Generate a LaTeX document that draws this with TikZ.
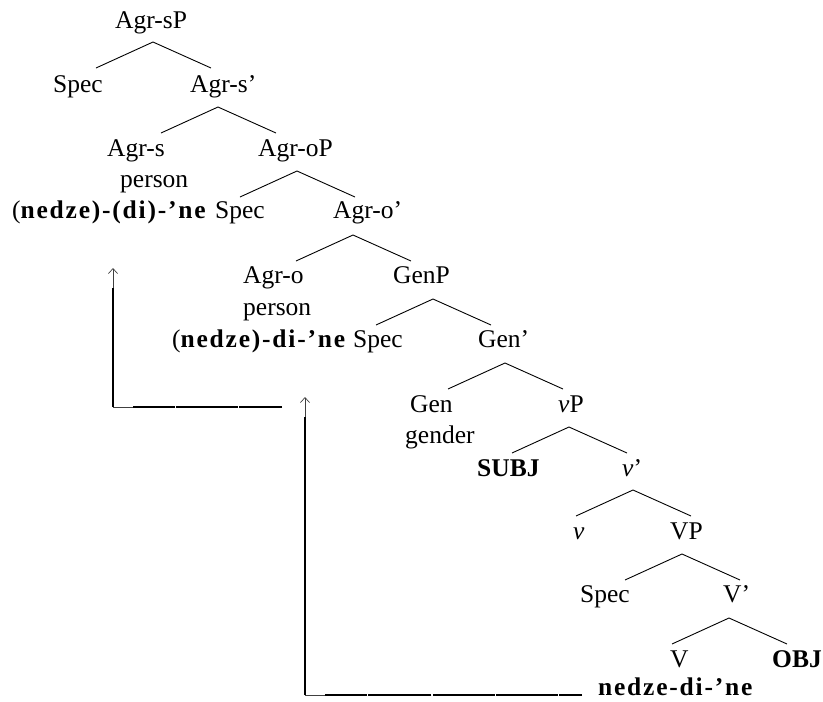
\documentclass[tikz,border=0pt]{standalone}
\usepackage{fontspec}
\setmainfont{Liberation Serif}
\newfontfamily\bspfam{Liberation Serif}[LetterSpace=7]
\usetikzlibrary{arrows.meta}
\newcommand\tfs{\fontsize{25.5}{30}\selectfont}
\newcommand\bt[1]{{\bspfam\bfseries #1}}
\newcommand\bn[1]{{\bfseries #1}}
\begin{document}
\begin{tikzpicture}[x=1pt,y=-1pt,
  tx/.style={anchor=base west,inner sep=0pt,font=\tfs},
  br/.style={line width=0.9pt},
  thinln/.style={line width=0.7pt,black!75},
  thickln/.style={line width=2.2pt}]
\useasboundingbox (0,0) rectangle (823,702);
% labels
\node[tx] (AgrsP) at (115,28) {Agr-sP};
\node[tx] (Spec1) at (53,92) {Spec};
\node[tx] (Agrsb) at (190,92) {Agr-s’};
\node[tx] (Agrs) at (107,156) {Agr-s};
\node[tx] (pers1) at (120,187) {person};
\node[tx] (ned1) at (12,218) {(\bt{nedze)-(di)-’ne}};
\node[tx] (Spec2) at (215,218) {Spec};
\node[tx] (AgroP) at (258,156) {Agr-oP};
\node[tx] (Agrob) at (333,218) {Agr-o’};
\node[tx] (Agro) at (243,283) {Agr-o};
\node[tx] (GenP) at (393,283) {GenP};
\node[tx] (pers2) at (243,315) {person};
\node[tx] (ned2) at (172,347) {(\bt{nedze)-di-’ne}};
\node[tx] (Spec3) at (353,347) {Spec};
\node[tx] (Genb) at (478,347) {Gen’};
\node[tx] (Gen) at (410,412) {Gen};
\node[tx] (gender) at (405,443) {gender};
\node[tx] (vP) at (558,412) {\textit{v}P};
\node[tx] (SUBJ) at (477,476) {\bn{SUBJ}};
\node[tx] (vb) at (622,476) {\textit{v}’};
\node[tx] (v) at (573,539) {\textit{v}};
\node[tx] (VP) at (670,539) {VP};
\node[tx] (Spec4) at (580,602) {Spec};
\node[tx] (Vb) at (723,602) {V’};
\node[tx] (V) at (670,667) {V};
\node[tx] (OBJ) at (772,667) {\bn{OBJ}};
\node[tx] (ned3) at (598,695) {\bt{nedze-di-’ne}};
% branch apexes
\coordinate (k1) at (153,42);
\coordinate (k2) at (218,107);
\coordinate (k3) at (297,171);
\coordinate (k4) at (353,235);
\coordinate (k5) at (433,299);
\coordinate (k6) at (505,363);
\coordinate (k7) at (569,427);
\coordinate (k8) at (633,490);
\coordinate (k9) at (682,554);
\coordinate (k10) at (729,618);
\foreach \k in {k1,k2,k3,k4,k5,k6,k7,k8,k9,k10}{
  \draw[br] (\k) ++(-57,26) -- (\k) -- ++(58,26);
}
% movement arrow 1
\coordinate (c1) at (113,407);
\coordinate (tip1) at (113,268);
\coordinate (s1) at (282,407);
\draw[thinln,-{Straight Barb[length=5pt,width=9pt]}] (c1) -- (tip1);
\draw[thickln] (c1) -- ++(0,-119);
\draw[thinln] (c1) -- ++(20,0);
\draw[thickln,dash pattern=on 43pt off 1.2pt on 62pt off 1.2pt on 60pt off 0pt] (s1) -- ([xshift=20pt]c1);
% movement arrow 2
\coordinate (c2) at (305,695);
\coordinate (tip2) at (305,397);
\coordinate (s2) at ([xshift=-16pt]ned3.base west);
\draw[thinln,-{Straight Barb[length=5pt,width=9pt]}] (c2) -- (tip2);
\draw[thickln] (c2) -- ++(0,-278);
\draw[thinln] (c2) -- ++(20,0);
\draw[thickln,dash pattern=on 23pt off 1.2pt on 62pt off 1.2pt on 62pt off 1.2pt on 63pt off 1.2pt on 60pt off 0pt] (s2) -- ([xshift=20pt]c2);
\end{tikzpicture}
\end{document}
